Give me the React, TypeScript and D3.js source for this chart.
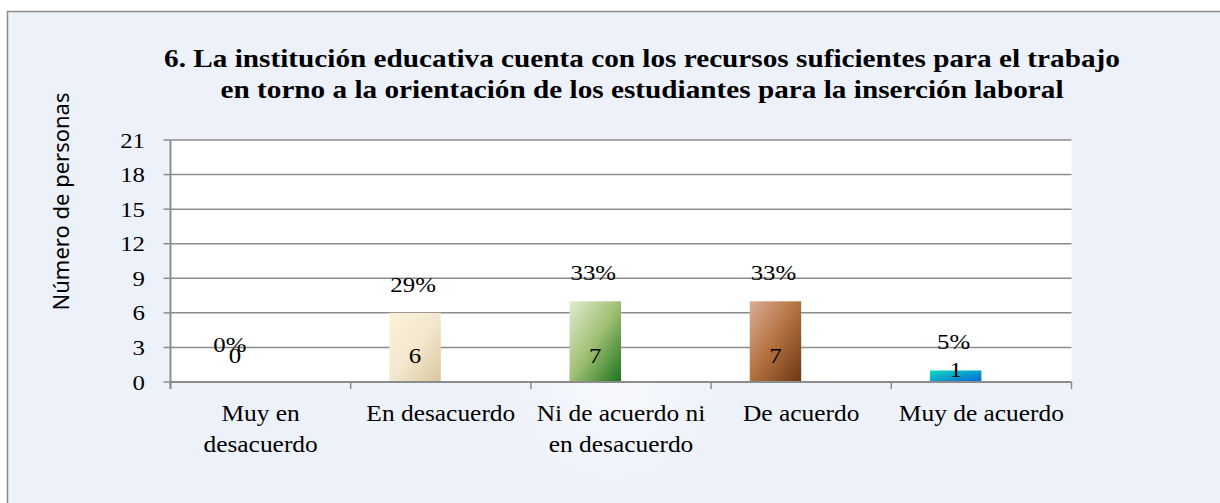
import React from "react";
import * as d3 from "d3";

const categories: string[][] = [
  ["Muy en", "desacuerdo"],
  ["En desacuerdo"],
  ["Ni de acuerdo ni", "en desacuerdo"],
  ["De acuerdo"],
  ["Muy de acuerdo"],
];
const counts: number[] = [0, 6, 7, 7, 1];
const percentLabels: string[] = ["0%", "29%", "33%", "33%", "5%"];
const yTicks: number[] = [0, 3, 6, 9, 12, 15, 18, 21];
const titleLines: string[] = [
  "6. La institución educativa cuenta con los recursos suficientes para el trabajo",
  "en torno a la orientación de los estudiantes para la inserción laboral",
];
const yAxisTitle = "Número de personas";

const gradients = [
  { id: "g0", stops: ["#f4f4f4", "#c8c8c8"] },
  { id: "g1", stops: ["#fdf0d6", "#f3e8cf", "#d9c79c"] },
  { id: "g2", stops: ["#e0ecd2", "#9fbf73", "#1c731e"] },
  { id: "g3", stops: ["#d8ae95", "#b3703f", "#6a3614"] },
  { id: "g4", stops: ["#14d8c0", "#0a9fd0", "#0068d6"] },
];

const W = 1220;
const H = 503;
const SX = 1.13;
const serif = "'Liberation Serif', 'Times New Roman', serif";
const sans = "'Noto Sans', 'Open Sans', sans-serif";

function T({ x, y, children, size, anchor = "middle", weight = "normal", sx = SX }: any) {
  return (
    <text
      transform={`translate(${x},${y}) scale(${sx},1)`}
      textAnchor={anchor}
      fontFamily={serif}
      fontSize={size}
      fontWeight={weight}
      fill="#000"
    >
      {children}
    </text>
  );
}

export default function App() {
  const left = 170.5;
  const right = 1071.5;
  const top = 140;
  const bottom = 382;
  const y = d3.scaleLinear().domain([0, 21]).range([bottom, top]);
  const x0 = d3
    .scaleBand<number>()
    .domain(d3.range(categories.length))
    .range([left, right])
    .padding(0);
  const x1 = d3
    .scaleBand<string>()
    .domain(["count", "pct"])
    .range([0, x0.bandwidth()])
    .paddingInner(0)
    .paddingOuter(0.75);
  const axisColor = "#8c8c8c";

  return (
    <svg
      width={W}
      height={H}
      style={{ position: "absolute", left: 0, top: 0, background: "#fff" }}
    >
      <defs>
        {gradients.map((g) => (
          <linearGradient key={g.id} id={g.id} x1="0" y1="0" x2="1" y2="1">
            {g.stops.map((c, i) => (
              <stop key={i} offset={i / (g.stops.length - 1)} stopColor={c} />
            ))}
          </linearGradient>
        ))}
        <radialGradient id="glow" cx="0.5" cy="0.5" r="0.5">
          <stop offset="0" stopColor="#fff" stopOpacity={0.6} />
          <stop offset="1" stopColor="#fff" stopOpacity={0} />
        </radialGradient>
      </defs>
      <rect x={7.5} y={11.5} width={W} height={H} fill="#edf1f9" stroke="#8c8c8c" strokeWidth={1.5} />
      <ellipse cx={615} cy={370} rx={120} ry={130} fill="url(#glow)" />
      <rect x={left} y={top} width={right - left} height={bottom - top} fill="#fff" />

      {titleLines.map((t, i) => (
        <T key={i} x={642} y={67 + i * 30.5} size={25} sx={1.17} weight="bold">
          {t}
        </T>
      ))}

      <text
        transform={`translate(69,${201.5}) rotate(-90)`}
        textAnchor="middle"
        fontFamily={sans}
        fontSize={22}
        fill="#000"
      >
        {yAxisTitle}
      </text>

      {yTicks.map((t) => (
        <g key={t}>
          {t > 0 && (
            <line x1={left} x2={right} y1={y(t)} y2={y(t)} stroke={axisColor} strokeWidth={1.5} />
          )}
          <line x1={left - 7} x2={left} y1={y(t)} y2={y(t)} stroke={axisColor} strokeWidth={1.5} />
          <T x={145} y={y(t) + 7.5} size={22} anchor="end">
            {t}
          </T>
        </g>
      ))}

      {counts.map((v, i) => {
        const bx = (x0(i) as number) + (x1("count") as number);
        const bw = x1.bandwidth();
        return (
          <rect key={i} x={bx} y={y(v)} width={bw} height={bottom - y(v)} fill={`url(#g${i})`} />
        );
      })}

      <line x1={left} x2={right} y1={bottom} y2={bottom} stroke={axisColor} strokeWidth={2} />
      <line x1={left} x2={left} y1={top} y2={bottom + 7} stroke={axisColor} strokeWidth={2} />
      {d3.range(categories.length + 1).map((i) => {
        const xx = i < categories.length ? (x0(i) as number) : right;
        return <line key={i} x1={xx} x2={xx} y1={bottom} y2={bottom + 7} stroke={axisColor} strokeWidth={1.5} />;
      })}

      {counts.map((v, i) => {
        const cx = (x0(i) as number) + (x1("count") as number) + x1.bandwidth() / 2;
        const valueBase = v > 0 && bottom - y(v) < 30 ? y(v) + 7 : bottom - 19;
        const pctBase = Math.min(y(v) - 21, bottom - 30);
        return (
          <g key={i}>
            <T x={cx} y={valueBase} size={22}>
              {v}
            </T>
            <T x={cx - (v === 0 ? 5 : 2)} y={pctBase} size={22}>
              {percentLabels[i]}
            </T>
          </g>
        );
      })}

      {categories.map((lines, i) => {
        const cx = (x0(i) as number) + x0.bandwidth() / 2;
        return lines.map((l, j) => (
          <T key={`${i}-${j}`} x={cx} y={421 + j * 31} size={22.5}>
            {l}
          </T>
        ));
      })}
    </svg>
  );
}
